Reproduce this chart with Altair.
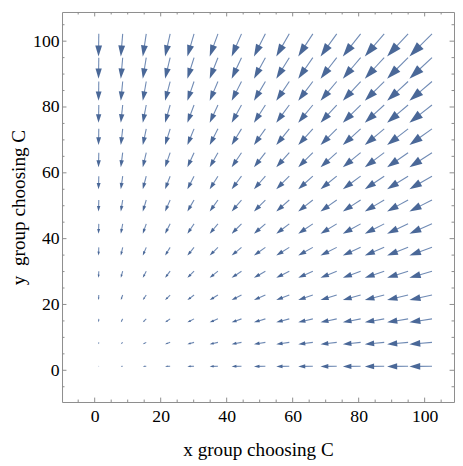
import math
import altair as alt
import pandas as pd

# ---- data (VectorPlot sample points and field values) ----
grid_x = [1.2, 8.2, 15.1, 22.1, 29.1, 36.1, 43.0, 50.0, 57.0, 63.9, 70.9, 77.9, 84.8, 91.8, 98.8]
grid_y = [1.2, 8.2, 15.1, 22.1, 29.1, 36.1, 43.0, 50.0, 57.0, 63.9, 70.9, 77.9, 84.8, 91.8, 98.8]
# x-component of the field for each column, y-component for each row
u_by_column = [-1.2, -8.2, -15.1, -22.1, -29.1, -36.1, -43.0, -50.0, -57.0, -63.9, -70.9, -77.9, -84.8, -91.8, -98.8]
v_by_row = [-1.2, -8.2, -15.1, -22.1, -29.1, -36.1, -43.0, -50.0, -57.0, -63.9, -70.9, -77.9, -84.8, -91.8, -98.8]

major_ticks = [0, 20, 40, 60, 80, 100]
minor_ticks_x = [-5, 5, 10, 15, 25, 30, 35, 45, 50, 55, 65, 70, 75, 85, 90, 95, 105]
minor_ticks_y = [-5, 5, 10, 15, 25, 30, 35, 45, 50, 55, 65, 70, 75, 85, 90, 95, 105]

x_domain = [-9.9, 108.9]
y_domain = [-9.64, 108.86]

# ---- style ----
W, H = 399, 397
PX = W / (x_domain[1] - x_domain[0])   # pixels per data unit
ARROW_SCALE = 0.0693                   # arrow length (data units) per unit magnitude
HEAD_FRAC = 0.48
ARROW_COLOR = "#4a6898"
SHAFT_COLOR = "#6f8ab4"
FRAME_COLOR = "#8c8c8c"
FONT = "Liberation Serif"
HEAD_PATH = "M0,-1L0.625,1L-0.625,1Z"

rows = []
for gx, u in zip(grid_x, u_by_column):
    for gy, v in zip(grid_y, v_by_row):
        mag = math.hypot(u, v)
        L = ARROW_SCALE * mag
        dx, dy = u / mag, v / mag
        tx, ty = gx - 0.5 * L * dx, gy - 0.5 * L * dy
        px_, py_ = gx + 0.5 * L * dx, gy + 0.5 * L * dy
        sx, sy = px_ - 0.4 * L * dx, py_ - 0.4 * L * dy
        hx, hy = px_ - 0.5 * HEAD_FRAC * L * dx, py_ - 0.5 * HEAD_FRAC * L * dy
        size = (HEAD_FRAC * L * PX) ** 2
        ang = (math.degrees(math.atan2(u, v)) + 360) % 360
        rows.append(dict(tx=tx, ty=ty, sx=sx, sy=sy, hx=hx, hy=hy, size=size, angle=ang))
df = pd.DataFrame(rows)

xs = alt.Scale(domain=x_domain, nice=False, zero=False)
ys = alt.Scale(domain=y_domain, nice=False, zero=False)

x_axis = alt.Axis(values=major_ticks, title="x group choosing C", ticks=False, domain=False,
                  grid=False, labelFont=FONT, labelFontSize=18, labelColor="black",
                  labelPadding=6, titleFont=FONT, titleFontSize=19.5, titleFontWeight="normal",
                  titleColor="black", titlePadding=15, labelFlush=False)
y_axis = alt.Axis(values=major_ticks, title="y\u00a0 group choosing C", ticks=False, domain=False,
                  grid=False, labelFont=FONT, labelFontSize=18, labelColor="black",
                  labelPadding=3, titleFont=FONT, titleFontSize=19.5, titleFontWeight="normal",
                  titleColor="black", titlePadding=4, labelFlush=False)

shafts = alt.Chart(df).mark_rule(color=SHAFT_COLOR, strokeWidth=1.1).encode(
    x=alt.X("tx:Q", scale=xs, axis=x_axis),
    y=alt.Y("ty:Q", scale=ys, axis=y_axis),
    x2="sx:Q", y2="sy:Q",
)
heads = alt.Chart(df).mark_point(shape=HEAD_PATH, filled=True, color=ARROW_COLOR,
                                 opacity=1, strokeWidth=0).encode(
    x=alt.X("hx:Q", scale=xs, axis=x_axis),
    y=alt.Y("hy:Q", scale=ys, axis=y_axis),
    size=alt.Size("size:Q", scale=None),
    angle=alt.Angle("angle:Q", scale=None),
)

tx_df = pd.DataFrame({"t": major_ticks + minor_ticks_x,
                      "len": [4.5] * len(major_ticks) + [2.5] * len(minor_ticks_x)})
ty_df = pd.DataFrame({"t": major_ticks + minor_ticks_y,
                      "len": [4.5] * len(major_ticks) + [2.5] * len(minor_ticks_y)})

def xticks(y0, sign, d):
    layers = []
    for L in (4.5, 2.5):
        sub = d[d["len"] == L]
        layers.append(alt.Chart(sub).mark_rule(color=FRAME_COLOR, strokeWidth=1).encode(
            x=alt.X("t:Q", scale=xs, axis=x_axis),
            y=alt.value(y0), y2=alt.value(y0 + sign * L)))
    return layers

def yticks(x0, sign, d):
    layers = []
    for L in (4.5, 2.5):
        sub = d[d["len"] == L]
        layers.append(alt.Chart(sub).mark_rule(color=FRAME_COLOR, strokeWidth=1).encode(
            y=alt.Y("t:Q", scale=ys, axis=y_axis),
            x=alt.value(x0), x2=alt.value(x0 + sign * L)))
    return layers

tick_layers = xticks(H, -1, tx_df) + xticks(0, 1, tx_df) + yticks(0, 1, ty_df) + yticks(W, -1, ty_df)

chart = alt.layer(shafts, heads, *tick_layers).properties(
    width=W, height=H,
    autosize=alt.AutoSizeParams(type="none"),
    padding={"left": 55, "top": 0, "right": 1, "bottom": 58},
    background="white",
).configure_view(stroke=FRAME_COLOR, strokeWidth=1)

chart.save("out.html", embed_options={"renderer": "svg", "actions": False})
